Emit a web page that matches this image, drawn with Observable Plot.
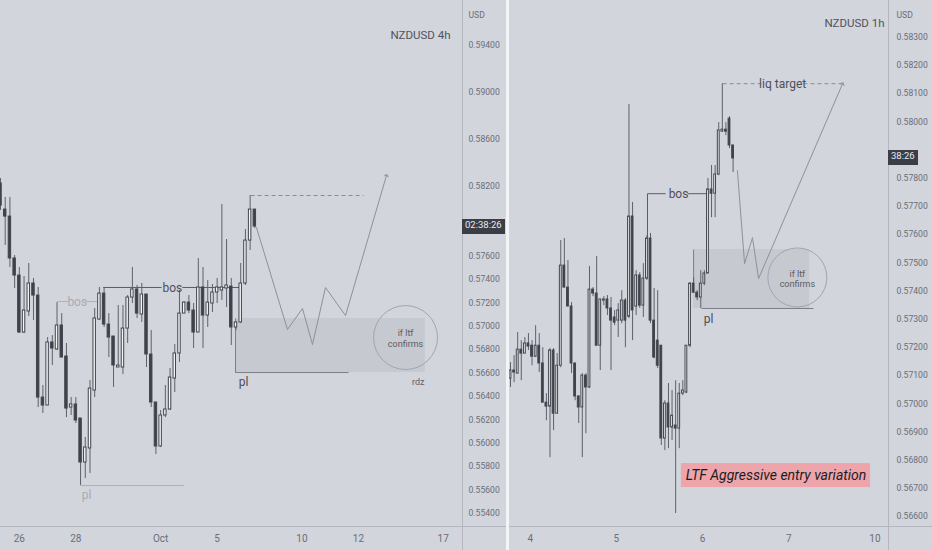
<!DOCTYPE html>
<html><head><meta charset="utf-8">
<script src="https://cdn.jsdelivr.net/npm/d3@7"></script>
<script src="https://cdn.jsdelivr.net/npm/@observablehq/plot@0.6"></script>
<style>
html,body{margin:0;padding:0;background:#f3f4f6;}
#wrap{position:relative;width:932px;height:550px;overflow:hidden;background:#f3f4f6;}
.panel{position:absolute;top:0;height:550px;background:#d2d5dc;overflow:hidden;}
#left{left:0;width:506px;}
#right{left:509px;width:423px;}
.panel svg{position:absolute;left:0;top:0;}
.cd{position:absolute;height:15px;line-height:15px;background:#3b3e47;color:#e8eaef;font:9.5px Roboto,sans-serif;padding:0 3px;}
.vl{position:absolute;top:0;width:1px;height:550px;background:#b3b6be;}
.hl{position:absolute;height:1px;left:0;background:#b3b6be;}
</style></head><body>
<div id="wrap"><div id="left" class="panel"></div><div id="right" class="panel"></div></div>
<script>
// ---------- LEFT PANEL: NZDUSD 4h (candle index 0..54) ----------
const leftO = [.58221,.57998,.57938,.57580,.57434,.56947,.57127,.57366,.57263,.56391,.56323,.56862,.56802,.57007,.56742,.56306,.56332,.56212,.55836,.55956,.56451,.57058,.57280,.57015,.56913,.56648,.56648,.56981,.57246,.57315,.57101,.57272,.56759,.56349,.55973,.56238,.56289,.56554,.56768,.57109,.57203,.57135,.56947,.57332,.57092,.57195,.57289,.57306,.57323,.57340,.56990,.57033,.57366,.57733,.57998];
const leftH = [.58263,.58101,.58101,.57605,.57503,.57426,.57537,.57409,.57332,.56494,.56904,.56921,.57203,.57109,.56853,.56391,.56391,.56212,.56050,.56537,.57152,.57332,.57332,.57109,.56913,.57178,.57178,.57263,.57503,.57349,.57366,.57272,.56964,.56349,.56280,.56494,.56639,.56844,.57306,.57212,.57263,.57195,.57580,.57503,.57391,.57357,.57409,.58041,.57742,.57409,.57041,.57537,.57827,.58118,.57998];
const leftL = [.57990,.57691,.57503,.57323,.56938,.56938,.57084,.57050,.56306,.56255,.56323,.56665,.56793,.56733,.56220,.56238,.56169,.55639,.55699,.55742,.56391,.57050,.56990,.56733,.56477,.56648,.56588,.56853,.57195,.57067,.57033,.56648,.56306,.55904,.55964,.56220,.56280,.56434,.56691,.57109,.57109,.56810,.56947,.56810,.56990,.57118,.57195,.57221,.57161,.56836,.56964,.57024,.57349,.57648,.57836];
const leftC = [.58032,.57938,.57580,.57434,.56947,.57135,.57366,.57263,.56391,.56323,.56862,.56810,.57007,.56733,.56297,.56332,.56195,.55836,.55964,.56468,.57067,.57280,.57015,.56904,.56665,.56665,.56981,.57246,.57315,.57109,.57272,.56759,.56349,.55973,.56238,.56289,.56562,.56768,.57109,.57203,.57135,.56947,.57332,.57092,.57203,.57289,.57332,.57332,.57349,.56990,.57033,.57366,.57733,.57998,.57853];
const leftDayIdx = [4,16,34,46,64,76,94];
const leftDayLabels = ["26","28","Oct","5","10","12","17"];
const leftPriceTicks = [0.554,0.556,0.558,0.560,0.562,0.564,0.566,0.568,0.570,0.572,0.574,0.576,0.582,0.586,0.590,0.594];
const leftXDomain = [0, 98.09];
const leftYDomain = [0.55289, 0.59785];
// annotations (candle index, price)
const leftBosDark = [{x1:21.8,y1:.57332,x2:34.2,y2:.57332},{x1:38.6,y1:.57332,x2:51,y2:.57332}];
const leftBosGray = [{x1:12,y1:.57212,x2:14.4,y2:.57212},{x1:18,y1:.57212,x2:20.6,y2:.57212},{x1:17,y1:.55639,x2:38.9,y2:.55639}];
const leftZone = [{x1:49.9,x2:90.2,y1:.56605,y2:.57067}];
const leftZoneEdges = [{x1:49.9,y1:.57067,x2:49.9,y2:.56605},{x1:49.9,y1:.56605,x2:73.9,y2:.56605}];
const leftDashed = [{x1:53.1,y1:.58118,x2:77.1,y2:.58118}];
const leftPath = [{x:54.35,y:.57844},{x:60.93,y:.56973},{x:64.12,y:.57152},{x:66.24,y:.56844},{x:69.0,y:.57332},{x:73.25,y:.57092},{x:81.95,y:.58289}];
const leftTexts = [
  {x:36.5,y:.57332,t:"bos",c:"#4c4f59",s:12},
  {x:16.3,y:.57212,t:"bos",c:"#a9acb4",s:12},
  {x:18.3,y:.55562,t:"pl",c:"#a9acb4",s:12},
  {x:51.6,y:.56528,t:"pl",c:"#4c4f59",s:12},
  {x:88.7,y:.56528,t:"rdz",c:"#5a5d67",s:9},
  {x:86,y:.56900,t:"if ltf\nconfirms",c:"#5a5d67",s:9}
];
const leftCircle = [{x:86,y:.56904}];

// ---------- RIGHT PANEL: NZDUSD 1h (candle index 0..62) ----------
const rightO = [.57089,.57118,.57107,.57192,.57178,.57214,.57206,.57167,.57206,.57143,.57004,.56990,.57189,.56965,.57135,.57490,.57412,.57345,.57143,.57026,.56987,.57100,.57058,.57405,.57391,.57206,.57366,.57370,.57338,.57306,.57295,.57295,.57366,.57309,.57664,.57345,.57455,.57348,.57444,.57586,.57295,.57224,.57206,.56877,.57001,.56916,.56923,.56912,.57036,.57040,.57206,.57426,.57394,.57377,.57426,.57462,.57760,.57745,.57813,.57965,.57972,.58011,.57916];
const rightH = [.57146,.57171,.57253,.57224,.57235,.57249,.57224,.57277,.57249,.57199,.57036,.57196,.57196,.57178,.57579,.57586,.57508,.57359,.57143,.57029,.57107,.57107,.57487,.57412,.57522,.57370,.57380,.57384,.57377,.57331,.57355,.57401,.57373,.58061,.57714,.57472,.57465,.57497,.57596,.57604,.57409,.57401,.57206,.57011,.57072,.57047,.57082,.57072,.57082,.57206,.57430,.57448,.57401,.57472,.57472,.57799,.57845,.57845,.57997,.58135,.57997,.58018,.57916];
const rightL = [.57058,.57075,.57107,.57082,.57178,.57189,.57135,.57164,.57111,.57004,.56940,.56809,.56905,.56965,.57128,.57412,.57345,.57107,.57011,.56930,.56809,.56894,.57054,.57380,.57206,.57118,.57348,.57313,.57118,.57277,.57235,.57284,.57199,.57302,.57224,.57313,.57338,.57306,.57437,.57284,.57160,.57125,.56852,.56834,.56841,.56870,.56611,.56841,.57029,.57036,.57199,.57391,.57366,.57338,.57419,.57462,.57660,.57660,.57809,.57962,.57951,.57905,.57820];
const rightC = [.57118,.57111,.57192,.57178,.57214,.57203,.57167,.57206,.57143,.57004,.56990,.57189,.56965,.57135,.57490,.57412,.57345,.57143,.57026,.56987,.57100,.57058,.57405,.57391,.57206,.57370,.57370,.57338,.57295,.57288,.57331,.57366,.57295,.57664,.57331,.57455,.57348,.57444,.57586,.57295,.57164,.57135,.56877,.57001,.56916,.56958,.56912,.57036,.57047,.57206,.57426,.57394,.57377,.57426,.57462,.57760,.57745,.57813,.57969,.57972,.57965,.57916,.57870];
const rightDayIdx = [5.5,29.5,53.5,77.5,101.5];
const rightDayLabels = ["4","5","6","7","10"];
const rightPriceTicks = [0.566,0.567,0.568,0.569,0.570,0.571,0.572,0.573,0.574,0.575,0.576,0.577,0.578,0.580,0.581,0.582,0.583];
const rightXDomain = [-0.279, 105.29];
const rightYDomain = [0.56565, 0.58430];
const rightBos = [{x1:38.16,y1:.57745,x2:38.16,y2:.57586},{x1:38.16,y1:.57745,x2:43.2,y2:.57745},{x1:49.3,y1:.57745,x2:54.9,y2:.57745}];
const rightZone = [{x1:51.0,x2:83.3,y1:.57338,y2:.57547}];
const rightZoneEdges = [{x1:51.0,y1:.57547,x2:51.0,y2:.57401},{x1:53.2,y1:.57338,x2:84.4,y2:.57338}];
const rightDashed = [{x1:59.1,y1:.58135,x2:69.9,y2:.58135},{x1:81.6,y1:.58135,x2:92.5,y2:.58135}];
const rightPath = [{x:63.2,y:.57827},{x:65.2,y:.57497},{x:67.4,y:.57589},{x:69.1,y:.57444},{x:92.5,y:.58135}];
const rightTexts = [
  {x:46.8,y:.57745,t:"bos",c:"#4c4f59",s:12},
  {x:75.8,y:.58135,t:"liq target",c:"#4c4f59",s:12},
  {x:55.2,y:.57302,t:"pl",c:"#4c4f59",s:12},
  {x:79.9,y:.57444,t:"if ltf\nconfirms",c:"#5a5d67",s:9}
];
const rightCircle = [{x:79.9,y:.57448}];
const noteBox = [{x1:47.6,x2:100.3,y1:.56703,y2:.56788}];
const noteText = [{x:73.95,y:.56745,t:"LTF Aggressive entry variation"}];

const FONT = "Roboto, 'Noto Sans', sans-serif";
const WICK = "#5e616b", EDGE = "#43464f", DARK = "#3e414a", LIGHT = "#f5f5f7";

function candles(O,H,L,C){ return O.map((o,i)=>({i,o,h:H[i],l:L[i],c:C[i]})); }

function panel(opt){
  const data = candles(opt.O,opt.H,opt.L,opt.C);
  const lab = new Map(opt.dayIdx.map((d,i)=>[d,opt.dayLabels[i]]));
  return Plot.plot({
    width: opt.width, height: 550,
    marginTop: 0, marginLeft: 0, marginRight: 44, marginBottom: 24,
    style: {background:"transparent", fontFamily: FONT, fontSize:"8.6px", color:"#6b6e79", overflow:"visible"},
    x: {domain: opt.xDomain, ticks: opt.dayIdx, tickFormat: d => lab.get(d), tickSize: 0, tickPadding: 8, label: null},
    y: {domain: opt.yDomain, axis: "right", ticks: opt.priceTicks, tickFormat: d3.format(".5f"), tickSize: 0, tickPadding: opt.pad, label: null},
    color: {type: "identity"},
    marks: [
      Plot.rect(opt.zone, {x1:"x1",x2:"x2",y1:"y1",y2:"y2",fill:"#c6c9d0"}),
      Plot.dot(opt.circle, {x:"x",y:"y",r:opt.r,stroke:"#a2a5ad",strokeWidth:1,fill:"none"}),
      Plot.link(opt.edges, {x1:"x1",y1:"y1",x2:"x2",y2:"y2",stroke:"#7b7e88",strokeWidth:1}),
      Plot.link(opt.dashed, {x1:"x1",y1:"y1",x2:"x2",y2:"y2",stroke:"#8a8d96",strokeWidth:1,strokeDasharray:"4,3"}),
      Plot.link(opt.dark, {x1:"x1",y1:"y1",x2:"x2",y2:"y2",stroke:"#5a5d67",strokeWidth:1}),
      Plot.link(opt.gray || [], {x1:"x1",y1:"y1",x2:"x2",y2:"y2",stroke:"#aeb1b9",strokeWidth:1}),
      Plot.line(opt.path, {x:"x",y:"y",stroke:"#8e919a",strokeWidth:1,markerEnd:"arrow"}),
      Plot.ruleX(data, {x:"i", y1:"l", y2:"h", stroke: WICK, strokeWidth:1}),
      Plot.rect(data, {x1: d=>d.i-opt.half, x2: d=>d.i+opt.half, y1:"o", y2:"c",
        fill: d => d.c >= d.o ? LIGHT : DARK, stroke: EDGE, strokeWidth: 1}),
      Plot.text(opt.texts, {x:"x",y:"y",text:"t",fill:"c",fontSize:d=>d.s,lineHeight:1.15}),
      ...(opt.extra || []),
      Plot.text(["USD"], {frameAnchor:"top-right", text:d=>d, dx:opt.pad, dy:11, textAnchor:"start", fill:"#6b6e79", fontSize:8.6}),
      Plot.text([opt.title], {frameAnchor:"top-right", text:d=>d, dx:opt.titleDx, dy:opt.titleDy, textAnchor:"end", fill:"#50535d", fontSize:11.5, fontWeight:"normal"})
    ]
  });
}

const Lp = panel({O:leftO,H:leftH,L:leftL,C:leftC, width:506, xDomain:leftXDomain, yDomain:leftYDomain,
  dayIdx:leftDayIdx, dayLabels:leftDayLabels, priceTicks:leftPriceTicks, pad:6, half:0.26,
  zone:leftZone, circle:leftCircle, r:32, edges:leftZoneEdges, dashed:leftDashed, dark:leftBosDark, gray:leftBosGray,
  path:leftPath, texts:leftTexts, title:"NZDUSD 4h", titleDx:-12, titleDy:30});
document.getElementById("left").appendChild(Lp);

const Rp = panel({O:rightO,H:rightH,L:rightL,C:rightC, width:423, xDomain:rightXDomain, yDomain:rightYDomain,
  dayIdx:rightDayIdx, dayLabels:rightDayLabels, priceTicks:rightPriceTicks, pad:8, half:0.25,
  zone:rightZone, circle:rightCircle, r:29.5, edges:rightZoneEdges, dashed:rightDashed, dark:rightBos, gray:[],
  path:rightPath, texts:rightTexts, title:"NZDUSD 1h", titleDx:-4, titleDy:18,
  extra:[
    Plot.rect(noteBox, {x1:"x1",x2:"x2",y1:"y1",y2:"y2",fill:"#eda4ab"}),
    Plot.text(noteText, {x:"x",y:"y",text:"t",fill:"#1c1d22",fontSize:14,fontStyle:"italic",fontFamily:FONT})
  ]});
document.getElementById("right").appendChild(Rp);

// date labels a little larger than price labels
for (const svg of [Lp, Rp]) {
  d3.select(svg).selectAll("g").filter(function(){ const a = this.getAttribute("aria-label") || ""; return a.startsWith("x-axis"); })
    .attr("font-size", "10px");
}

// axis border lines and countdown labels (positioned through the plot scales)
function chrome(panelId, plot, lastClose, label, width){
  const el = document.getElementById(panelId);
  const xr = plot.scale("x").range[1];
  const yb = plot.scale("y").range[0];
  const v = document.createElement("div"); v.className="vl"; v.style.left = xr+"px"; el.appendChild(v);
  const h = document.createElement("div"); h.className="hl"; h.style.top = yb+"px"; h.style.width = width+"px"; el.appendChild(h);
  const cd = document.createElement("div"); cd.className="cd"; cd.textContent = label;
  cd.style.left = xr+"px"; cd.style.top = (plot.scale("y").apply(lastClose)-7.5)+"px"; el.appendChild(cd);
}
chrome("left", Lp, leftC[leftC.length-1], "02:38:26", 506);
chrome("right", Rp, rightC[rightC.length-1], "38:26", 423);
</script>
</body></html>
